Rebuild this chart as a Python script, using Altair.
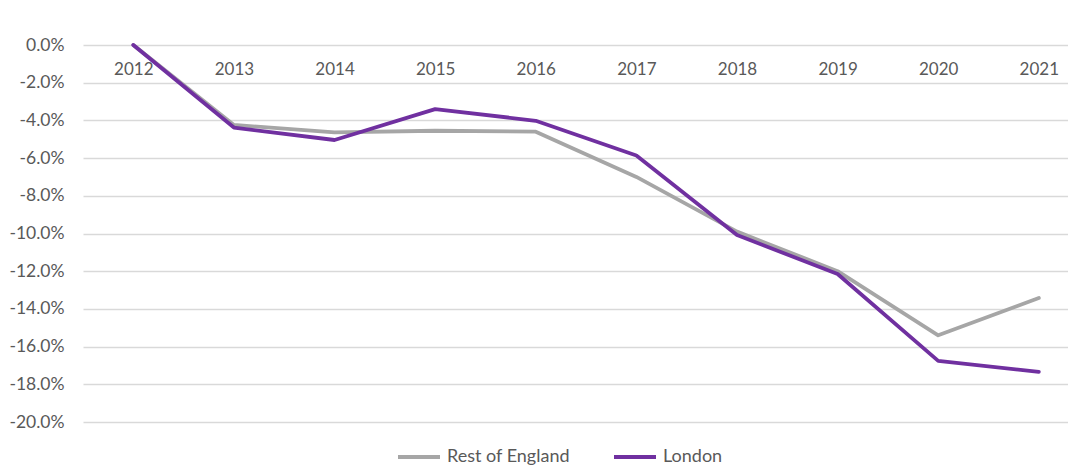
import altair as alt
import pandas as pd

years = [2012, 2013, 2014, 2015, 2016, 2017, 2018, 2019, 2020, 2021]
rest_of_england = [0.0, -4.24, -4.64, -4.55, -4.6, -7.0, -9.9, -12.0, -15.4, -13.42]
london = [0.0, -4.38, -5.04, -3.4, -4.02, -5.86, -10.08, -12.15, -16.76, -17.34]
series_names = ["Rest of England", "London"]
series_colors = ["#A6A6A6", "#7030A0"]
y_ticks = [0, -2, -4, -6, -8, -10, -12, -14, -16, -18, -20]

rows = []
for name, vals in zip(series_names, [rest_of_england, london]):
    for yr, v in zip(years, vals):
        rows.append({"year": yr, "value": v / 100.0, "series": name})
df = pd.DataFrame(rows)

FONT = "Lato"
GREY = "#595959"

chart = alt.Chart(df).mark_line(strokeWidth=3.8, strokeCap="round", strokeJoin="round").encode(
    x=alt.X(
        "year:Q",
        scale=alt.Scale(domain=[2011.5, 2021.29], nice=False, zero=False),
        axis=alt.Axis(
            orient="bottom",
            offset=-377,
            values=years,
            format="d",
            title=None,
            grid=False,
            domain=False,
            ticks=False,
            tickSize=0,
            labelPadding=16,
            labelFont=FONT,
            labelFontSize=17,
            labelColor=GREY,
        ),
    ),
    y=alt.Y(
        "value:Q",
        scale=alt.Scale(domain=[-0.20, 0.0], nice=False),
        axis=alt.Axis(
            values=[t / 100.0 for t in y_ticks],
            labelExpr="replace(format(datum.value, '.1%'), '\u2212', '-')",
            title=None,
            grid=True,
            gridColor="#D9D9D9",
            gridWidth=1.5,
            domain=False,
            ticks=False,
            tickSize=0,
            labelPadding=19,
            labelFont=FONT,
            labelFontSize=17.5,
            labelColor=GREY,
        ),
    ),
    color=alt.Color(
        "series:N",
        scale=alt.Scale(domain=series_names, range=series_colors),
        sort=series_names,
        legend=alt.Legend(
            title=None,
            orient="none",
            direction="horizontal",
            legendX=313,
            legendY=389,
            symbolType="stroke",
            symbolSize=1764,
            symbolStrokeWidth=4,
            labelFont=FONT,
            labelFontSize=18,
            labelColor=GREY,
            labelOffset=5,
            columnPadding=36,
        ),
    ),
    order=alt.Order("year:Q"),
).properties(
    width=985,
    height=377,
    autosize=alt.AutoSizeParams(type="none"),
    padding={"left": 75, "top": 37, "right": 0, "bottom": 45},
).configure_view(strokeWidth=0)

chart.save("out.html", embed_options={"renderer": "svg", "actions": False})
